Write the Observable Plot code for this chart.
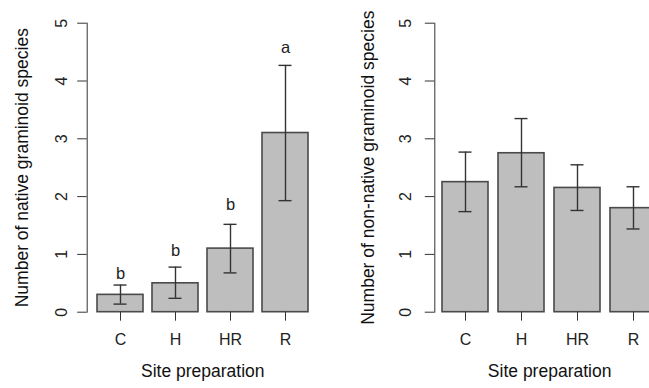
<!DOCTYPE html>
<html><head><meta charset="utf-8">
<script src="https://cdn.jsdelivr.net/npm/d3@7"></script>
<script src="https://cdn.jsdelivr.net/npm/@observablehq/plot@0.6"></script>
<style>
body{margin:0;background:#fff;overflow:hidden}
#wrap{position:relative;width:649px;height:388px;overflow:hidden;background:#fff}
#wrap svg{position:absolute;top:0}
</style></head><body><div id="wrap"></div>
<script>
const categories = ["C", "H", "HR", "R"];
const nativeMean = [0.3, 0.5, 1.1, 3.1];
const nativeLower = [0.14, 0.24, 0.68, 1.93];
const nativeUpper = [0.47, 0.78, 1.52, 4.27];
const nativeLetters = ["b", "b", "b", "a"];
const nativeLetterY = [0.67, 1.07, 1.865, 4.58];
const nonNativeMean = [2.25, 2.75, 2.15, 1.8];
const nonNativeLower = [1.74, 2.17, 1.76, 1.44];
const nonNativeUpper = [2.77, 3.35, 2.55, 2.17];
const yTicks = [0, 1, 2, 3, 4, 5];
const xTitle = "Site preparation";
const yTitleNative = "Number of native graminoid species";
const yTitleNonNative = "Number of non-native graminoid species";

const FONT = "'Liberation Sans', Arial, Helvetica, sans-serif";

function panel({mean, lower, upper, letters, letterY, yTitle, width, marginLeft, marginRight, paddingInner, paddingOuter, tickLabelDx, titleDx}) {
  const rows = categories.map((c, i) => ({cat: c, mean: mean[i], lo: lower[i], hi: upper[i]}));
  const marks = [
    Plot.barY(rows, {x: "cat", y: "mean", fill: "#bebebe", stroke: "#4a4a4a", strokeWidth: 1.6}),
    Plot.ruleX(rows, {x: "cat", y1: "lo", y2: "hi", stroke: "#333", strokeWidth: 1.4}),
    Plot.tickY(rows, {x: "cat", y: "hi", insetLeft: 16.5, insetRight: 16.5, stroke: "#333", strokeWidth: 1.4}),
    Plot.tickY(rows, {x: "cat", y: "lo", insetLeft: 16.5, insetRight: 16.5, stroke: "#333", strokeWidth: 1.4}),
    Plot.frame({anchor: "left", stroke: "#333"}),
    Plot.axisY({ticks: yTicks, tickSize: 9.5, tickFormat: () => "", label: null, stroke: "#333"}),
    Plot.text(yTicks, {y: d => d, text: d => String(d), frameAnchor: "left", textAnchor: "middle", dx: tickLabelDx, rotate: -90, fontSize: 16, fill: "#222"}),
    Plot.axisX({tickSize: 9, tickPadding: 12.5, fontSize: 16, label: null, stroke: "#333", fill: "#222"}),
    Plot.text([xTitle], {frameAnchor: "bottom", textAnchor: "middle", dy: 65, fontSize: 17.5, fill: "#111"}),
    Plot.text([yTitle], {frameAnchor: "left", textAnchor: "middle", dx: titleDx, rotate: -90, fontSize: 17.5, fill: "#111"})
  ];
  if (letters) {
    const lrows = categories.map((c, i) => ({cat: c, ly: letterY[i], t: letters[i]}));
    marks.push(Plot.text(lrows, {x: "cat", y: "ly", text: "t", fontSize: 16.5, fill: "#222"}));
  }
  return Plot.plot({
    width, height: 388,
    marginTop: 22.7, marginBottom: 76.3, marginLeft, marginRight,
    style: {fontFamily: FONT, background: "transparent"},
    x: {domain: categories, paddingInner, paddingOuter},
    y: {domain: [0, 5]},
    marks
  });
}

const left = panel({
  mean: nativeMean, lower: nativeLower, upper: nativeUpper,
  letters: nativeLetters, letterY: nativeLetterY, yTitle: yTitleNative,
  width: 324, marginLeft: 86.7, marginRight: 6.2, paddingInner: 0.1667, paddingOuter: 0.153,
  tickLabelDx: -25.4, titleDx: -65
});
const right = panel({
  mean: nonNativeMean, lower: nonNativeLower, upper: nonNativeUpper,
  yTitle: yTitleNonNative,
  width: 345, marginLeft: 110.3, marginRight: 5, paddingInner: 0.17, paddingOuter: 0.13,
  tickLabelDx: -28.5, titleDx: -66
});
left.style.left = "0px";
right.style.left = "324px";
const wrap = document.getElementById("wrap");
wrap.appendChild(left);
wrap.appendChild(right);
</script></body></html>
